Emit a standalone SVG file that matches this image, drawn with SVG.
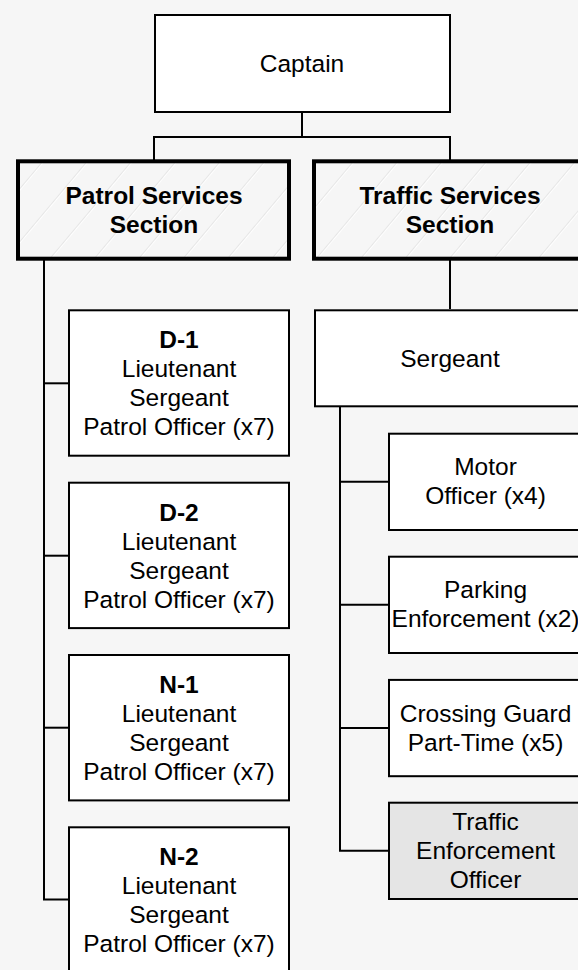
<svg xmlns="http://www.w3.org/2000/svg" width="578" height="970" viewBox="0 0 578 970">
<defs>
<pattern id="hatch" patternUnits="userSpaceOnUse" width="34" height="34" patternTransform="rotate(40)">
<rect width="34" height="34" fill="#f6f6f6"/>
<line x1="0" y1="0" x2="0" y2="34" stroke="#e2e2e2" stroke-width="1.6"/>
<line x1="1.6" y1="0" x2="1.6" y2="34" stroke="#ffffff" stroke-width="1"/>
</pattern>
<style>
.box{fill:#ffffff;stroke:#000;stroke-width:2}
.sec{fill:url(#hatch);stroke:#000;stroke-width:4}
.grey{fill:#e5e5e5;stroke:#000;stroke-width:2}
.conn{fill:none;stroke:#000;stroke-width:2}
text{font-family:"Liberation Sans",Arial,sans-serif;font-size:24.5px;fill:#000;text-anchor:middle}
.b{font-weight:bold}
</style>
</defs>
<rect width="578" height="970" fill="#f6f6f6"/>
<g id="connectors">
<path class="conn" d="M302 112 V137"/>
<path class="conn" d="M154 160 V137 H450 V160"/>
<path class="conn" d="M44 258 V899.5 H68"/>
<path class="conn" d="M44 383.3 H68"/>
<path class="conn" d="M44 555.7 H68"/>
<path class="conn" d="M44 727.7 H68"/>
<path class="conn" d="M450 259 V309"/>
<path class="conn" d="M340 407 V850.8 H388"/>
<path class="conn" d="M340 481.8 H388"/>
<path class="conn" d="M340 604.8 H388"/>
<path class="conn" d="M340 728 H388"/>
</g>
<g id="captain">
<rect class="box" x="155" y="15" width="295" height="97"/>
<text x="302" y="72">Captain</text>
</g>
<g id="patrol">
<rect class="sec" x="18" y="161.3" width="271" height="97.4"/>
<text class="b" x="154" y="204">Patrol Services</text>
<text class="b" x="154" y="233">Section</text>
</g>
<g id="traffic">
<rect class="sec" x="314" y="161.3" width="272" height="97.4"/>
<text class="b" x="450" y="204">Traffic Services</text>
<text class="b" x="450" y="233">Section</text>
</g>
<g id="d1">
<rect class="box" x="69" y="310.3" width="220" height="145.4"/>
<text class="b" x="179" y="348.3">D-1</text>
<text x="179" y="377.3">Lieutenant</text>
<text x="179" y="406.3">Sergeant</text>
<text x="179" y="435.3">Patrol Officer (x7)</text>
</g>
<g id="d2">
<rect class="box" x="69" y="482.7" width="220" height="145.4"/>
<text class="b" x="179" y="520.7">D-2</text>
<text x="179" y="549.7">Lieutenant</text>
<text x="179" y="578.7">Sergeant</text>
<text x="179" y="607.7">Patrol Officer (x7)</text>
</g>
<g id="n1">
<rect class="box" x="69" y="655" width="220" height="145.4"/>
<text class="b" x="179" y="693">N-1</text>
<text x="179" y="722">Lieutenant</text>
<text x="179" y="751">Sergeant</text>
<text x="179" y="780">Patrol Officer (x7)</text>
</g>
<g id="n2">
<rect class="box" x="69" y="827.3" width="220" height="145.4"/>
<text class="b" x="179" y="865.3">N-2</text>
<text x="179" y="894.3">Lieutenant</text>
<text x="179" y="923.3">Sergeant</text>
<text x="179" y="952.3">Patrol Officer (x7)</text>
</g>
<g id="sergeant">
<rect class="box" x="315" y="310.3" width="271" height="96"/>
<text x="450" y="366.7">Sergeant</text>
</g>
<g id="motor">
<rect class="box" x="389" y="433.7" width="195" height="96.3"/>
<text x="485.5" y="475.3">Motor</text>
<text x="485.5" y="504.3">Officer (x4)</text>
</g>
<g id="parking">
<rect class="box" x="389" y="556.7" width="195" height="96.3"/>
<text x="485.5" y="598.3">Parking</text>
<text x="485.5" y="627.3">Enforcement (x2)</text>
</g>
<g id="crossing">
<rect class="box" x="389" y="679.9" width="195" height="96.3"/>
<text x="485.5" y="721.5">Crossing Guard</text>
<text x="485.5" y="750.5">Part-Time (x5)</text>
</g>
<g id="teo">
<rect class="grey" x="389" y="802.7" width="195" height="96.3"/>
<text x="485.5" y="829.8">Traffic</text>
<text x="485.5" y="858.8">Enforcement</text>
<text x="485.5" y="887.8">Officer</text>
</g>
</svg>
